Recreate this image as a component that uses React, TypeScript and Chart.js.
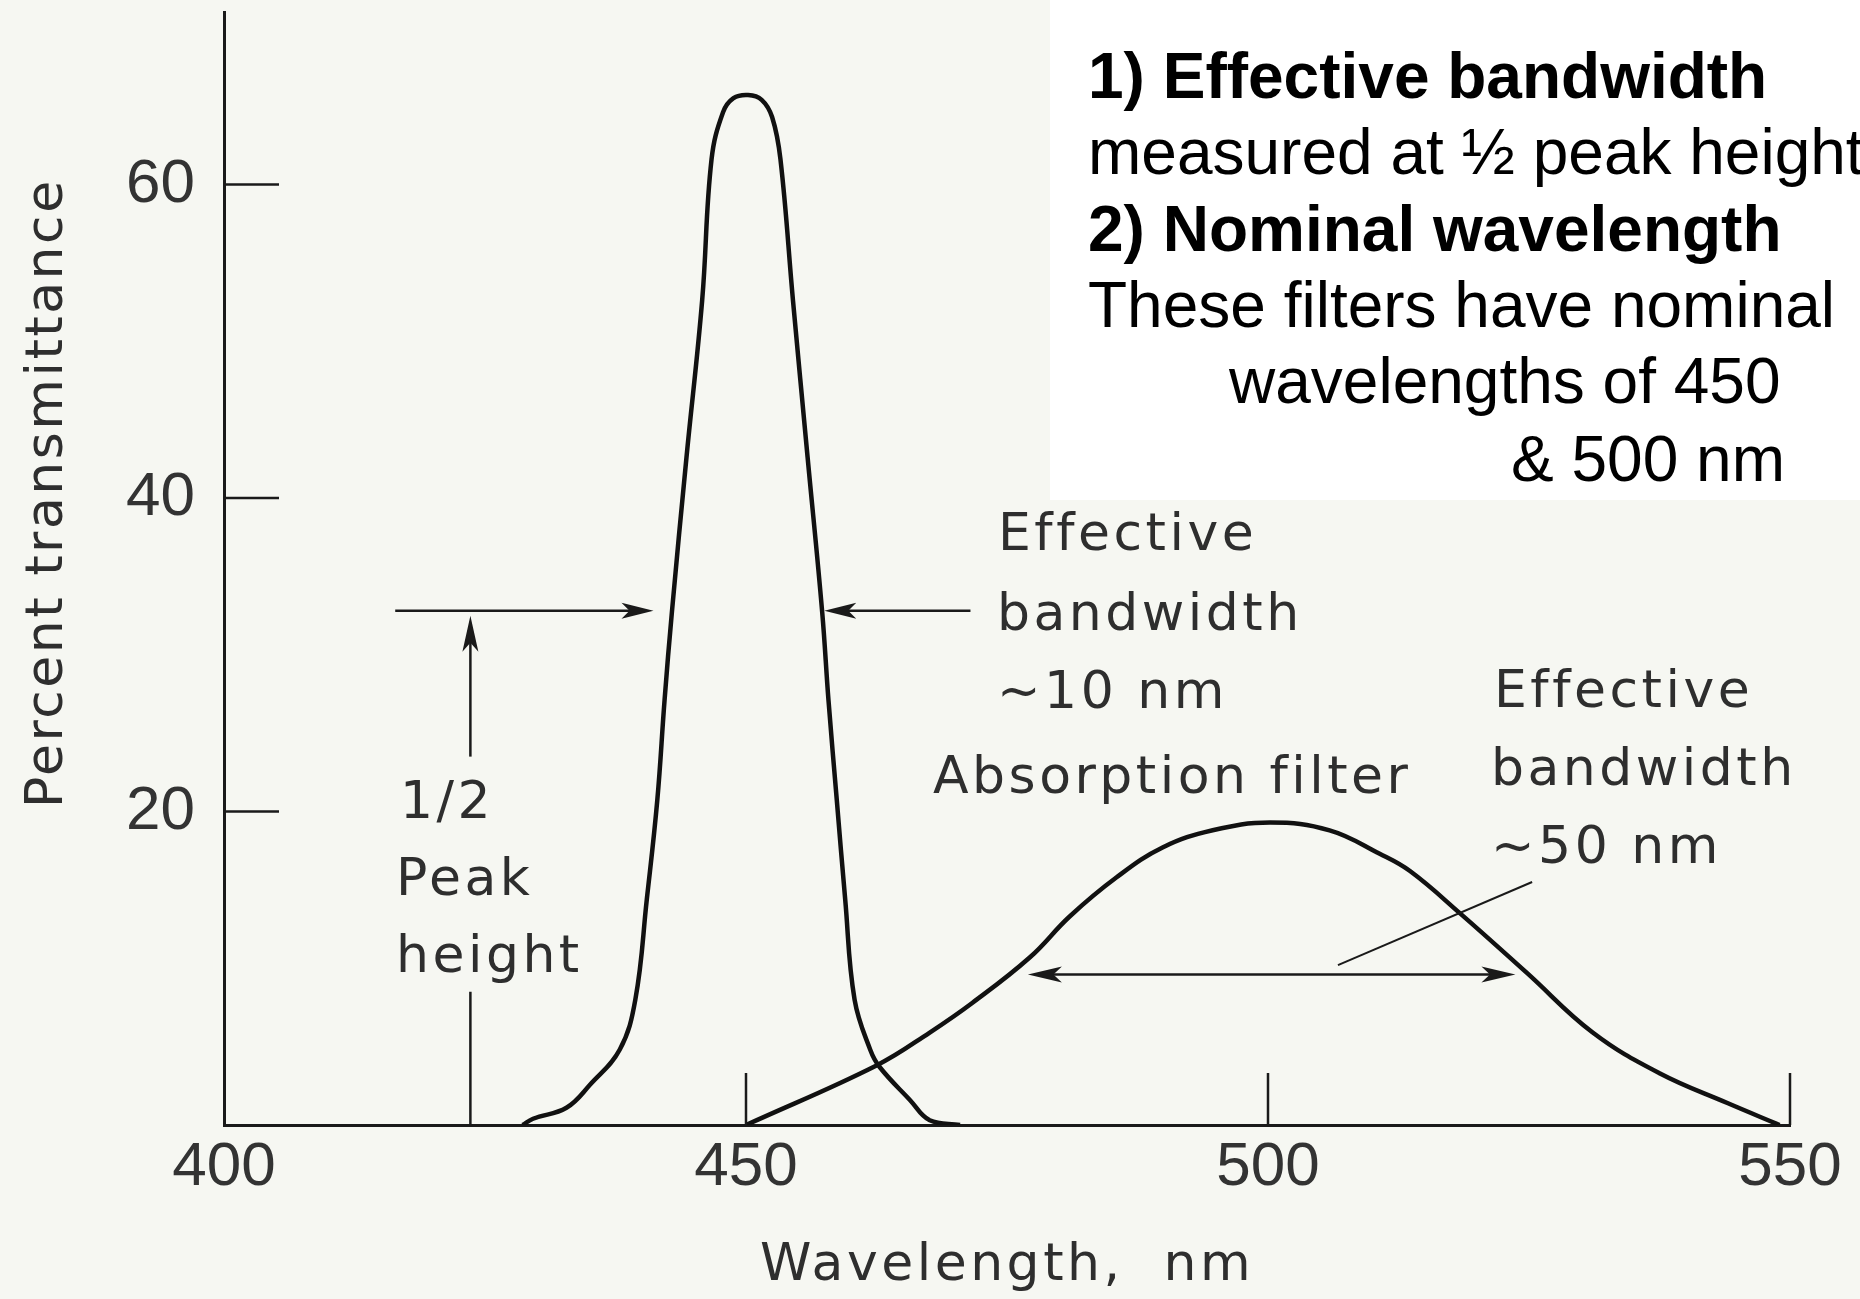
import { useEffect, useRef } from 'react';
import { Chart, registerables } from 'chart.js';

Chart.register(...registerables);

// ---- data ----
const narrowWavelengths = [428.6, 429.6, 432.8, 435.1, 437.9, 439.4, 440.5, 441.5, 442.2, 442.9, 444.3, 445.8, 446.7, 447.8, 448.8, 450.2, 451.5, 452.5, 453.3, 454.5, 455.9, 457.3, 457.9, 458.7, 459.5, 460.4, 461.9, 462.8, 465.7, 467.6, 470.5];
const narrowTransmittance = [0, 0.4, 1.1, 2.6, 4.8, 8.0, 14.4, 20.7, 27.1, 32.7, 42.6, 52.6, 61.6, 64.6, 65.5, 65.7, 65.4, 64.3, 61.6, 52.6, 42.6, 32.7, 27.1, 20.7, 14.4, 8.0, 4.8, 3.7, 1.6, 0.3, 0];

const broadWavelengths = [450.0, 462.5, 467.6, 471.7, 477.2, 481.0, 485.5, 489.9, 494.7, 500.2, 505.9, 510.7, 513.6, 518.4, 524.8, 531.1, 537.5, 544.0, 549.0];
const broadTransmittance = [0, 3.8, 5.9, 7.8, 10.7, 13.3, 15.8, 17.7, 18.8, 19.3, 18.8, 17.3, 16.2, 13.5, 9.7, 5.9, 3.3, 1.4, 0];

const xTickValues = [400, 450, 500, 550];
const yTickValues = [20, 40, 60];
const xMarkValues = [450, 500, 550];

// half-peak annotation values
const narrowHalfPeak = 32.8;
const narrowBandEdges = [442.0, 457.4];
const broadHalfPeak = 9.6;
const broadBandEdges = [477.0, 523.7];

const W = 1860;
const H = 1299;

function line(ctx: CanvasRenderingContext2D, x1: number, y1: number, x2: number, y2: number) {
  ctx.beginPath();
  ctx.moveTo(x1, y1);
  ctx.lineTo(x2, y2);
  ctx.stroke();
}

function arrowHead(ctx: CanvasRenderingContext2D, tx: number, ty: number, dx: number, dy: number, len = 32, half = 8) {
  const n = Math.hypot(dx, dy);
  const ux = dx / n, uy = dy / n;
  const bx = tx - ux * len, by = ty - uy * len;
  const px = -uy, py = ux;
  ctx.beginPath();
  ctx.moveTo(tx, ty);
  ctx.lineTo(bx + px * half, by + py * half);
  ctx.lineTo(bx + ux * len * 0.25, by + uy * len * 0.25);
  ctx.lineTo(bx - px * half, by - py * half);
  ctx.closePath();
  ctx.fill();
}

function text(ctx: CanvasRenderingContext2D, s: string, x: number, y: number, font: string, color: string, spacing = '0px') {
  ctx.font = font;
  ctx.fillStyle = color;
  ctx.textAlign = 'left';
  ctx.textBaseline = 'alphabetic';
  (ctx as any).letterSpacing = spacing;
  ctx.fillText(s, x, y);
  (ctx as any).letterSpacing = '0px';
}

const ANN_FONT = '52px "DejaVu Sans"';
const ANN_COLOR = '#2e2e2e';
const ANN_SP = '3.5px';
const SLIDE_FONT = '64px "Liberation Sans"';
const SLIDE_BOLD = 'bold 64px "Liberation Sans"';

const decorPlugin = {
  id: 'decor',
  beforeDraw(chart: any) {
    const ctx: CanvasRenderingContext2D = chart.ctx;
    ctx.save();
    ctx.fillStyle = '#f6f7f2';
    ctx.fillRect(0, 0, W, H);
    ctx.fillStyle = '#ffffff';
    ctx.fillRect(1050, 0, 810, 500);
    ctx.restore();
  },
  afterDraw(chart: any) {
    const ctx: CanvasRenderingContext2D = chart.ctx;
    const xs = chart.scales.x;
    const ys = chart.scales.y;
    const X = (v: number) => xs.getPixelForValue(v);
    const Y = (v: number) => ys.getPixelForValue(v);
    ctx.save();
    ctx.strokeStyle = '#1a1a1a';
    ctx.fillStyle = '#1a1a1a';
    ctx.lineCap = 'butt';

    // inside tick marks
    ctx.lineWidth = 2.5;
    for (const v of yTickValues) line(ctx, xs.left, Y(v), xs.left + 55, Y(v));
    for (const v of xMarkValues) line(ctx, X(v), ys.bottom, X(v), ys.bottom - 52);

    // narrow filter half-peak arrows
    ctx.lineWidth = 2.5;
    const hy = Y(narrowHalfPeak);
    line(ctx, X(416.4), hy, X(narrowBandEdges[0]) - 20, hy);
    arrowHead(ctx, X(narrowBandEdges[0]) - 9, hy, 1, 0, 32, 8);
    line(ctx, X(narrowBandEdges[1]) + 20, hy, X(471.5), hy);
    arrowHead(ctx, X(narrowBandEdges[1]) + 1, hy, -1, 0, 32, 8);

    // vertical 1/2 peak-height arrow
    const vx = X(423.6);
    line(ctx, vx, hy + 20, vx, Y(23.5));
    arrowHead(ctx, vx, hy + 5, 0, -1, 36, 8);
    line(ctx, vx, Y(8.5), vx, Y(0));

    // broad filter half-peak double arrow
    const by = Y(broadHalfPeak);
    line(ctx, X(broadBandEdges[0]) + 20, by, X(broadBandEdges[1]) - 20, by);
    arrowHead(ctx, X(broadBandEdges[0]), by, -1, 0, 34, 8);
    arrowHead(ctx, X(broadBandEdges[1]), by, 1, 0, 34, 8);
    // leader line
    ctx.lineWidth = 2;
    line(ctx, X(506.7), Y(10.2), X(525.3), Y(15.5));

    // in-plot annotations
    text(ctx, 'Effective', 998, 550, ANN_FONT, ANN_COLOR, ANN_SP);
    text(ctx, 'bandwidth', 997, 630, ANN_FONT, ANN_COLOR, ANN_SP);
    text(ctx, '~10 nm', 997, 708, ANN_FONT, ANN_COLOR, ANN_SP);
    text(ctx, 'Absorption filter', 933, 793, ANN_FONT, ANN_COLOR, ANN_SP);
    text(ctx, 'Effective', 1494, 707, ANN_FONT, ANN_COLOR, ANN_SP);
    text(ctx, 'bandwidth', 1491, 785, ANN_FONT, ANN_COLOR, ANN_SP);
    text(ctx, '~50 nm', 1491, 863, ANN_FONT, ANN_COLOR, ANN_SP);
    text(ctx, '1/2', 400, 818, ANN_FONT, ANN_COLOR, ANN_SP);
    text(ctx, 'Peak', 396, 895, ANN_FONT, ANN_COLOR, ANN_SP);
    text(ctx, 'height', 396, 972, ANN_FONT, ANN_COLOR, ANN_SP);

    // axis titles
    text(ctx, 'Wavelength,  nm', 760, 1280, ANN_FONT, ANN_COLOR, ANN_SP);
    ctx.save();
    ctx.translate(62, 808);
    ctx.rotate(-Math.PI / 2);
    text(ctx, 'Percent transmittance', 0, 0, ANN_FONT, ANN_COLOR, '2.5px');
    ctx.restore();

    // slide text, top right
    text(ctx, '1) Effective bandwidth', 1088, 98, SLIDE_BOLD, '#000');
    text(ctx, 'measured at \u00BD peak height', 1088, 174, SLIDE_FONT, '#000');
    text(ctx, '2) Nominal wavelength', 1088, 251, SLIDE_BOLD, '#000');
    text(ctx, 'These filters have nominal', 1088, 327, SLIDE_FONT, '#000');
    text(ctx, 'wavelengths of 450', 1229, 403, SLIDE_FONT, '#000');
    text(ctx, '& 500 nm', 1511, 481, SLIDE_FONT, '#000');

    ctx.restore();
  },
};

export default function App() {
  const canvasRef = useRef<HTMLCanvasElement | null>(null);

  useEffect(() => {
    const canvas = canvasRef.current;
    if (!canvas) return;
    const tickFont = { family: '"Liberation Sans"', size: 62 };
    const chart = new Chart(canvas, {
      type: 'line',
      data: {
        datasets: [
          {
            label: 'Interference filter',
            data: narrowWavelengths.map((x, i) => ({ x, y: narrowTransmittance[i] })),
            borderColor: '#111',
            borderWidth: 4.5,
            pointRadius: 0,
            tension: 0.4,
            fill: false,
          },
          {
            label: 'Absorption filter',
            data: broadWavelengths.map((x, i) => ({ x, y: broadTransmittance[i] })),
            borderColor: '#111',
            borderWidth: 4.5,
            pointRadius: 0,
            tension: 0.4,
            fill: false,
          },
        ],
      },
      options: {
        responsive: false,
        animation: false,
        events: [],
        layout: { padding: { left: 0, right: 70, top: 12, bottom: 0 } },
        plugins: { legend: { display: false }, tooltip: { enabled: false } },
        scales: {
          x: {
            type: 'linear',
            min: 400,
            max: 550,
            grid: { display: false, drawTicks: false },
            border: { display: true, color: '#1a1a1a', width: 3 },
            ticks: { font: tickFont, color: '#333', padding: 6, maxRotation: 0, autoSkip: false },
            afterBuildTicks: (s: any) => { s.ticks = xTickValues.map((v) => ({ value: v })); },
            afterFit: (s: any) => { s.height = 174; s.paddingLeft = 0; s.paddingRight = 0; },
          },
          y: {
            type: 'linear',
            min: 0,
            max: 71,
            grid: { display: false, drawTicks: false },
            border: { display: true, color: '#1a1a1a', width: 3 },
            ticks: { font: tickFont, color: '#333', padding: 29 },
            afterBuildTicks: (s: any) => { s.ticks = yTickValues.map((v) => ({ value: v })); },
            afterFit: (s: any) => { s.width = 224; s.paddingTop = 0; s.paddingBottom = 0; },
          },
        },
      } as any,
      plugins: [decorPlugin],
    });
    return () => chart.destroy();
  }, []);

  return (
    <div style={{ position: 'fixed', left: 0, top: 0, width: W, height: H }}>
      <canvas ref={canvasRef} width={W} height={H} style={{ width: W, height: H, display: 'block' }} />
    </div>
  );
}
